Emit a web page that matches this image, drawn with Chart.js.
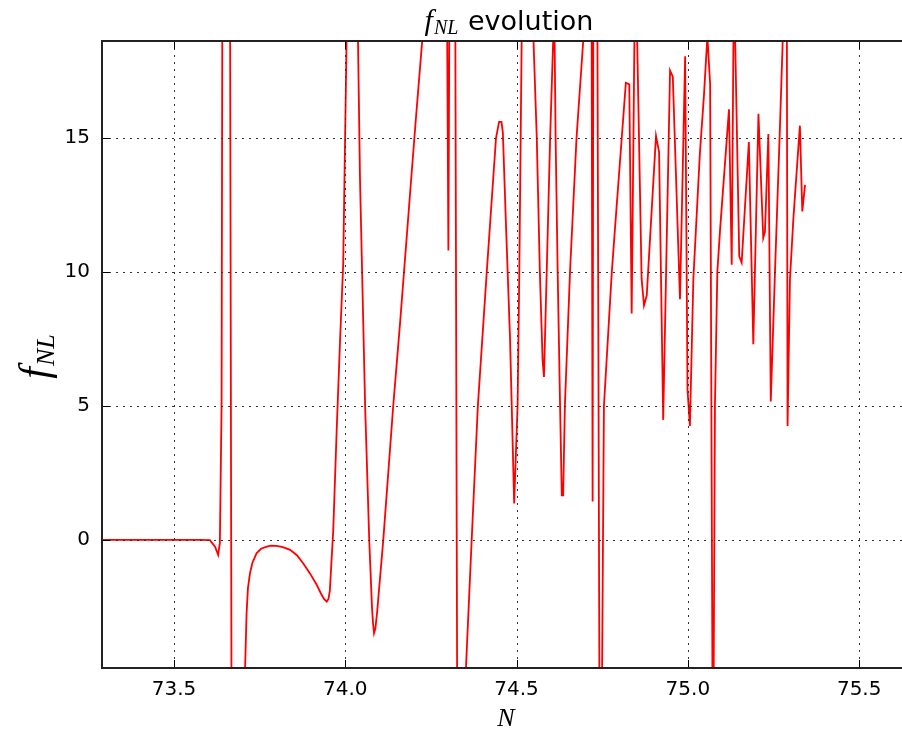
<!DOCTYPE html>
<html>
<head>
<meta charset="utf-8">
<script src="https://cdn.jsdelivr.net/npm/chart.js@4.4.1/dist/chart.umd.min.js"></script>
<style>
  body { margin: 0; background: #fff; }
</style>
</head>
<body>
<canvas id="fnlChart" width="902" height="733"></canvas>
<script>
// e-folds N and the f_NL value (values past the axis limits are clipped)
const nValues = [
  73.290, 73.459, 73.576, 73.605, 73.620, 73.629, 73.634, 73.639, 73.642, 73.652,
  73.663, 73.669, 73.687, 73.704, 73.712, 73.716, 73.722, 73.729, 73.741, 73.754,
  73.771, 73.783, 73.800, 73.818, 73.839, 73.859, 73.877, 73.897, 73.917, 73.929,
  73.938, 73.946, 73.951, 73.955, 73.965, 73.975, 73.985, 73.994,
  74.004, 74.008, 74.020, 74.033, 74.037, 74.043, 74.053, 74.058, 74.070, 74.078,
  74.081, 74.084, 74.088, 74.093, 74.111, 74.140, 74.160, 74.189, 74.206, 74.227, 74.262,
  74.297, 74.301, 74.304, 74.311, 74.320, 74.328, 74.341, 74.348, 74.369, 74.387,
  74.413, 74.440, 74.449, 74.456, 74.460, 74.469, 74.481, 74.493, 74.498, 74.503,
  74.508, 74.512, 74.515, 74.530, 74.549, 74.559, 74.568, 74.576, 74.580, 74.588,
  74.598, 74.607, 74.609, 74.611, 74.614, 74.620, 74.627, 74.632, 74.636, 74.641,
  74.656, 74.675, 74.695, 74.708, 74.719, 74.722, 74.724, 74.730, 74.736, 74.742,
  74.746, 74.749, 74.755, 74.778, 74.787, 74.807, 74.819, 74.829, 74.836, 74.844,
  74.848, 74.852, 74.865, 74.872, 74.880, 74.907, 74.916, 74.928, 74.948, 74.956,
  74.977, 74.992, 74.999, 75.006, 75.016, 75.035, 75.047, 75.057, 75.065, 75.072,
  75.075, 75.079, 75.086, 75.094, 75.120, 75.128, 75.133, 75.135, 75.138, 75.150,
  75.157, 75.178, 75.191, 75.206, 75.220, 75.225, 75.235, 75.242, 75.254, 75.269,
  75.277, 75.283, 75.289, 75.291, 75.298, 75.308, 75.327, 75.334, 75.342
];
const fnlValues = [
  0, 0, 0, -0.01, -0.25, -0.56, -0.12, 5, 25, 40,
  25, -12, -25, -6.5, -2.73, -1.8, -1.24, -0.85, -0.5, -0.33,
  -0.25, -0.21, -0.22, -0.27, -0.37, -0.57, -0.87, -1.25, -1.68, -2.0,
  -2.2, -2.3, -2.2, -1.9, 0.37, 4.1, 7.5, 10.3,
  18.8, 22, 40, 22, 18.8, 13.5, 7.84, 5.0, 0, -2.5,
  -3.1, -3.48, -3.3, -2.7, 0, 5, 8.1, 12.9, 15.7, 19, 30,
  20, 10.8, 20, 30, 25, -12, -20, -6, 0, 5,
  10, 15, 15.6, 15.6, 15.2, 11.8, 7.5, 1.36, 3.2, 5,
  10, 15, 18.8, 30, 18.8, 15, 10, 6.7, 6.08, 10,
  15, 18.7, 19.5, 18.7, 15, 10, 5, 1.66, 1.66, 5,
  10, 15, 18.7, 30, 20, 1.43, 20, 30, 19, -6,
  -12, -6, 5, 10, 11.57, 15, 17.06, 17.0, 8.45, 18.7,
  22, 18.7, 9.74, 8.75, 9.13, 15.08, 14.47, 4.48, 17.52, 17.29,
  8.98, 18.05, 5.6, 4.25, 9.74, 14.4, 16.6, 18.8, 17.0, -6,
  -6, 5, 10, 11.57, 16.07, 10.27, 18.7, 20, 18.7, 10.58,
  10.35, 14.85, 7.3, 15.9, 11.27, 11.5, 15.15, 5.17, 9.9, 15.5,
  18.7, 22, 18.7, 4.25, 9.74, 12.0, 15.46, 12.26, 13.25
];
const xTicks = [73.5, 74.0, 74.5, 75.0, 75.5];
const yTicks = [0, 5, 10, 15];
const xRange = [73.29, 75.625];
const yRange = [-4.78, 18.62];

const points = nValues.map((n, i) => ({ x: n, y: fnlValues[i] }));

// matplotlib-like frame: dotted grid on top of the curve, inward ticks, labels
const mplFrame = {
  id: 'mplFrame',
  afterDatasetsDraw(chart) {
    const { ctx, chartArea: a, scales: { x, y } } = chart;
    ctx.save();
    ctx.strokeStyle = '#333';
    ctx.lineWidth = 1;
    ctx.setLineDash([2, 5]);
    xTicks.forEach(v => {
      const px = Math.round(x.getPixelForValue(v)) + 0.5;
      ctx.beginPath(); ctx.moveTo(px, a.top); ctx.lineTo(px, a.bottom); ctx.stroke();
    });
    yTicks.forEach(v => {
      const py = Math.round(y.getPixelForValue(v)) + 0.5;
      ctx.beginPath(); ctx.moveTo(a.left, py); ctx.lineTo(a.right, py); ctx.stroke();
    });
    ctx.setLineDash([]);
    ctx.strokeStyle = '#000';
    ctx.lineWidth = 1;
    xTicks.forEach(v => {
      const px = Math.round(x.getPixelForValue(v)) + 0.5;
      ctx.beginPath(); ctx.moveTo(px, a.top); ctx.lineTo(px, a.top + 8); ctx.stroke();
      ctx.beginPath(); ctx.moveTo(px, a.bottom); ctx.lineTo(px, a.bottom - 8); ctx.stroke();
    });
    yTicks.forEach(v => {
      const py = Math.round(y.getPixelForValue(v)) + 0.5;
      ctx.beginPath(); ctx.moveTo(a.left, py); ctx.lineTo(a.left + 8, py); ctx.stroke();
    });
    ctx.strokeStyle = '#222';
    ctx.lineWidth = 2;
    ctx.beginPath();
    ctx.moveTo(a.right + 2, a.top);
    ctx.lineTo(a.left, a.top);
    ctx.lineTo(a.left, a.bottom);
    ctx.lineTo(a.right + 2, a.bottom);
    ctx.stroke();

    // title: f_NL evolution
    ctx.fillStyle = '#000';
    ctx.textBaseline = 'alphabetic';
    const fFont = 'italic 30px "Liberation Serif"';
    const subFont = 'italic 20px "Liberation Serif"';
    const tFont = '27px "DejaVu Sans"';
    ctx.font = fFont; const wf = ctx.measureText('f').width;
    ctx.font = subFont; const ws = ctx.measureText('NL').width;
    ctx.font = tFont; const wt = ctx.measureText(' evolution').width;
    let tx = 509 - (wf + ws + 2 + wt) / 2;
    const base = 30;
    ctx.font = fFont; ctx.fillText('f', tx, base); tx += wf + 1;
    ctx.font = subFont; ctx.fillText('NL', tx, base + 4); tx += ws + 1;
    ctx.font = tFont; ctx.fillText(' evolution', tx, base);

    // x label
    ctx.font = 'italic 26px "Liberation Serif"';
    ctx.textAlign = 'center';
    ctx.fillText('N', 506, 726);

    // y label (rotated)
    ctx.translate(48, 357);
    ctx.rotate(-Math.PI / 2);
    ctx.textAlign = 'left';
    ctx.font = 'italic 42px "Liberation Serif"';
    const wyf = ctx.measureText('f').width;
    ctx.font = 'italic 26px "Liberation Serif"';
    const wys = ctx.measureText('NL').width;
    let ly = -(wyf + wys) / 2;
    ctx.font = 'italic 42px "Liberation Serif"';
    ctx.fillText('f', ly, 0);
    ctx.font = 'italic 26px "Liberation Serif"';
    ctx.fillText('NL', ly + wyf + 1, 6);
    ctx.restore();
  }
};

const ctx = document.getElementById('fnlChart').getContext('2d');
const chart = new Chart(ctx, {
  type: 'scatter',
  data: {
    datasets: [{
      label: 'fNL',
      data: points,
      showLine: true,
      borderColor: '#ff0000',
      borderWidth: 1.8,
      pointRadius: 0,
      tension: 0,
      clip: 0
    }]
  },
  options: {
    responsive: false,
    animation: false,
    layout: { padding: { left: 0, right: 0, top: 41, bottom: 0 } },
    plugins: { legend: { display: false }, tooltip: { enabled: false } },
    scales: {
      x: {
        type: 'linear',
        min: xRange[0],
        max: xRange[1],
        afterBuildTicks: s => { s.ticks = xTicks.map(v => ({ value: v })); },
        afterFit: s => { s.height = 65; },
        grid: { display: false, drawTicks: false },
        border: { display: false },
        ticks: {
          padding: 10,
          color: '#000',
          font: { family: 'DejaVu Sans', size: 20 },
          callback: v => v.toFixed(1)
        }
      },
      y: {
        type: 'linear',
        min: yRange[0],
        max: yRange[1],
        afterBuildTicks: s => { s.ticks = yTicks.map(v => ({ value: v })); },
        afterFit: s => { s.width = 102; },
        grid: { display: false, drawTicks: false },
        border: { display: false },
        ticks: {
          padding: 12,
          color: '#000',
          font: { family: 'DejaVu Sans', size: 20 },
          callback: v => String(v)
        }
      }
    }
  },
  plugins: [mplFrame]
});
</script>
</body>
</html>
